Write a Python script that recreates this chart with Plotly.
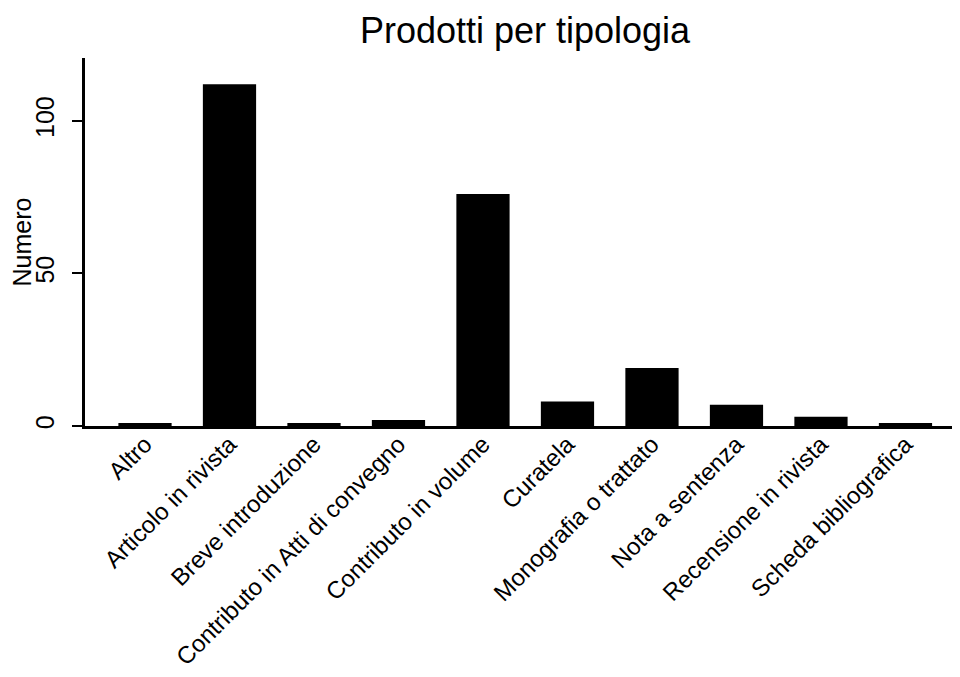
import plotly.graph_objects as go

categories = ["Altro", "Articolo in rivista", "Breve introduzione",
              "Contributo in Atti di convegno", "Contributo in volume",
              "Curatela", "Monografia o trattato", "Nota a sentenza",
              "Recensione in rivista", "Scheda bibliografica"]
values = [1, 112, 1, 2, 76, 8, 19, 7, 3, 1]
y_ticks = [0, 50, 100]

FONT = "Liberation Sans, Arial, sans-serif"

fig = go.Figure(go.Bar(
    x=categories, y=values, width=0.63,
    marker=dict(color="black", line=dict(width=0)),
))

fig.update_layout(
    width=960, height=677,
    margin=dict(l=77, r=0, t=50, b=259, autoexpand=False),
    paper_bgcolor="white", plot_bgcolor="white",
    showlegend=False,
    font=dict(family=FONT, color="black", size=24),
    title=dict(text="Prodotti per tipologia", x=517 / 960, xanchor="center",
               xref="container",
               y=1 - 22 / 677, yanchor="middle", yref="container",
               font=dict(size=36, family=FONT, color="black")),
)

fig.update_xaxes(
    type="category", range=[-0.71, 9.74], automargin=False,
    showline=True, linecolor="black", linewidth=2.5,
    ticks="", tickangle=-45, showgrid=False, zeroline=False,
    ticklabelstandoff=-8,
    tickfont=dict(size=24, family=FONT, color="black"),
)

fig.update_yaxes(
    range=[0, 120.6], tickvals=y_ticks, ticktext=[str(v) for v in y_ticks],
    automargin=False,
    showline=True, linecolor="black", linewidth=2.5,
    ticks="outside", ticklen=10, tickwidth=2, tickcolor="black",
    ticklabelstandoff=8,
    tickangle=-90, showgrid=False, zeroline=False,
    tickfont=dict(size=25, family=FONT, color="black"),
    title=dict(text="Numero", font=dict(size=25, family=FONT, color="black"), standoff=10),
)

fig.write_html("out.html")
